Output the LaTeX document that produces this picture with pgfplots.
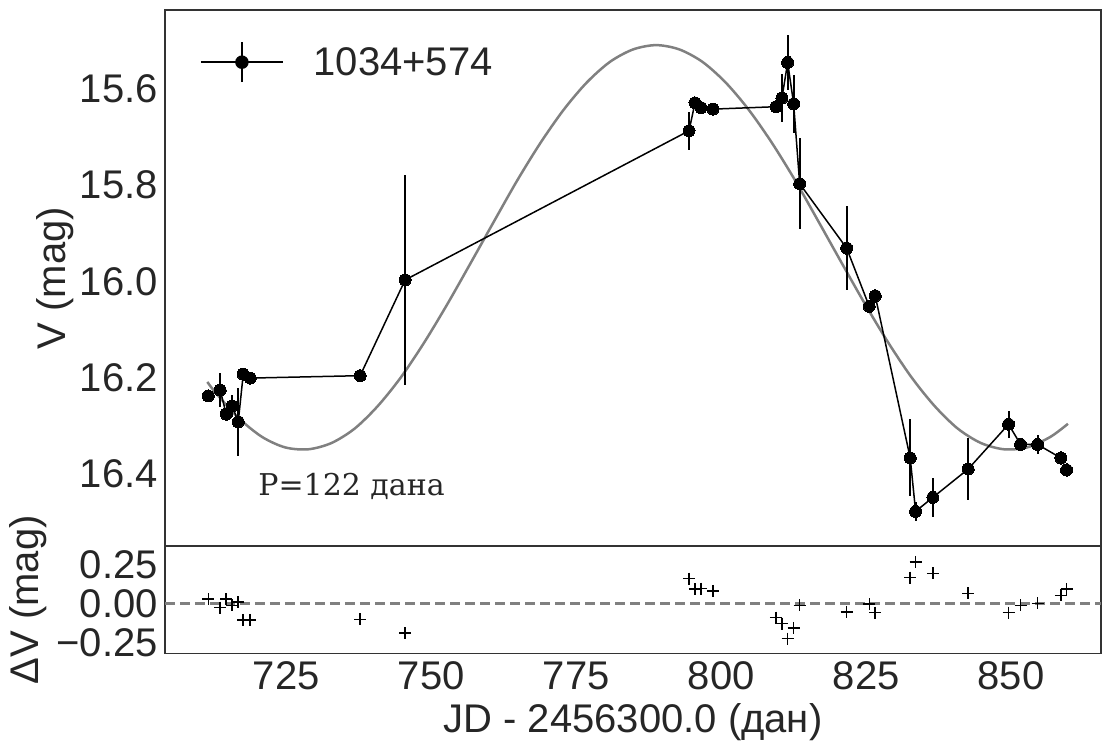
\documentclass[border=0pt]{standalone}
\usepackage{fontspec}
\setmainfont{Liberation Sans}
\newfontfamily\serifcyr{DejaVu Serif}
\usepackage{pgfplots}
\pgfplotsset{compat=1.18}
\usepackage{pgfplotstable}

\definecolor{txt}{gray}{0.15}
\definecolor{framec}{gray}{0.2}
\definecolor{fitgray}{gray}{0.5}

\pgfplotstableread{
x y e
711.56 16.238 0.012
713.62 16.226 0.036
714.66 16.276 0.012
715.69 16.259 0.022
716.73 16.292 0.070
717.59 16.193 0.010
718.80 16.201 0.010
737.75 16.196 0.010
745.51 15.997 0.218
794.46 15.687 0.040
795.49 15.629 0.012
796.53 15.639 0.010
798.59 15.642 0.010
809.45 15.637 0.010
810.48 15.619 0.050
811.47 15.545 0.058
812.50 15.631 0.060
813.54 15.797 0.095
821.64 15.931 0.087
825.54 16.052 0.010
826.57 16.030 0.015
832.60 16.367 0.080
833.53 16.478 0.020
836.51 16.449 0.040
842.60 16.390 0.065
849.56 16.297 0.028
851.63 16.339 0.010
854.56 16.339 0.020
858.58 16.367 0.015
859.56 16.392 0.015
}\lc

\pgfplotstableread{
x r
711.56 0.026
713.62 -0.028
714.66 0.026
715.69 -0.013
716.73 0.008
717.59 -0.107
718.80 -0.107
737.75 -0.103
745.51 -0.192
794.46 0.158
795.49 0.090
796.53 0.094
798.59 0.079
809.45 -0.092
810.48 -0.131
811.47 -0.227
812.50 -0.158
813.54 -0.013
821.64 -0.056
825.54 -0.006
826.57 -0.060
832.60 0.164
833.53 0.265
836.51 0.192
842.60 0.064
849.56 -0.060
851.63 -0.013
854.56 0.000
858.58 0.051
859.56 0.090
}\res

\pgfplotstableread{
x y
711.4 16.209
712.8 16.231
716.8 16.284
720.8 16.323
724.8 16.345
728.8 16.349
732.8 16.336
736.8 16.306
740.8 16.259
744.8 16.199
748.8 16.127
752.8 16.047
756.8 15.962
760.8 15.876
764.8 15.791
768.8 15.713
772.8 15.644
776.8 15.587
780.8 15.544
784.8 15.518
788.8 15.509
792.8 15.518
796.8 15.544
800.8 15.587
804.8 15.644
808.8 15.713
812.8 15.791
816.8 15.876
820.8 15.962
824.8 16.047
828.8 16.127
832.8 16.199
836.8 16.259
840.8 16.306
844.8 16.336
848.8 16.349
852.8 16.345
856.8 16.323
859.8 16.296
}\fit

\pgfplotsset{
  common/.style={
    scale only axis,
    width=936bp,
    xmin=704.1, xmax=865.5,
    axis line style={framec, line width=1.6bp},
    major tick length=0pt,
    tick style={draw=none},
    xtick={725,750,775,800,825,850},
    tick label style={font=\fontsize{40bp}{48bp}\selectfont, text=txt, inner sep=0pt},
    label style={font=\fontsize{40bp}{48bp}\selectfont, text=txt, inner sep=0pt},
    yticklabel style={anchor=east, xshift=-7bp},
  }
}

\begin{document}
\begin{tikzpicture}
\useasboundingbox (-165bp,-198bp) rectangle (937bp,546bp);
\begin{axis}[common,
  at={(0,0)}, anchor=south west,
  height=536bp,
  y dir=reverse,
  ymin=15.436, ymax=16.550,
  ytick={15.6,15.8,16.0,16.2,16.4},
  yticklabels={15.6,15.8,16.0,16.2,16.4},
  xticklabels={},
  ylabel={V (mag)},
  ylabel style={at={(axis description cs:-0.1175,0.5)}, anchor=center},
  legend style={draw=none, fill=none, at={(axis description cs:0,1)}, anchor=north west,
    xshift=32bp, yshift=-29bp, font=\fontsize{40bp}{48bp}\selectfont, text=txt,
    cells={anchor=west}},
  legend image code/.code={
    \draw[black, line width=1.5bp] (0bp,0bp) -- (82bp,0bp);
    \draw[black, line width=2bp] (41bp,-20bp) -- (41bp,20bp);
    \fill[black] (41bp,0bp) circle (6bp);
  },
]
\addplot[fitgray, line width=2.5bp, smooth, forget plot] table[x=x, y=y]{\fit};
\addplot[black, line width=1.5bp, mark=*, mark size=6bp,
  mark options={fill=black, draw=black, line width=0pt},
  error bars/.cd, y dir=both, y explicit, error mark=none,
  error bar style={line width=2bp, black}]
  table[x=x, y=y, y error=e]{\lc};
\addlegendentry{\hspace*{28bp}1034+574}
\node[anchor=base west, inner sep=0pt, text=txt, font=\serifcyr\fontsize{30bp}{36bp}\selectfont]
  at (axis cs:720.17,16.444) {P=122 дана};
\end{axis}
\begin{axis}[common,
  at={(0,0)}, anchor=north west,
  height=107.5bp,
  ymin=-0.322, ymax=0.367,
  ytick={-0.25,0,0.25},
  yticklabels={−0.25,0.00,0.25},
  xticklabels={725,750,775,800,825,850},
  xticklabel style={anchor=base, yshift=-36bp},
  xlabel={JD - 2456300.0 (дан)},
  xlabel style={at={(axis description cs:0.5,0)}, anchor=base, yshift=-79bp},
  ylabel={ΔV (mag)},
  ylabel style={at={(axis description cs:-0.1464,0.5)}, anchor=center},
]
\addplot[fitgray, line width=2.5bp, dash pattern=on 10bp off 5bp] coordinates {(704.1,0) (865.5,0)};
\addplot[black, only marks, mark=+, mark size=6bp, mark options={line width=1.5bp}]
  table[x=x, y=r]{\res};
\end{axis}
\end{tikzpicture}
\end{document}
